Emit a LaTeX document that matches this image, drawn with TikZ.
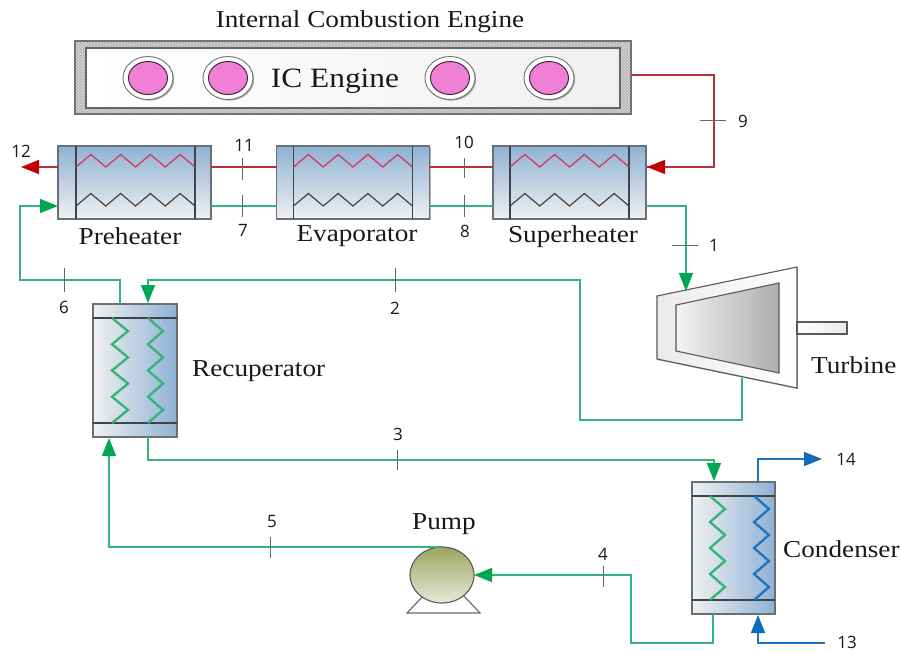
\documentclass[tikz,border=0pt]{standalone}
\usepackage{fontspec}
\setmainfont[FakeStretch=1.12]{Liberation Serif}
\newfontfamily\numfont{Open Sans}
\usetikzlibrary{arrows.meta,patterns,shadows,shapes.geometric}
\definecolor{boxline}{HTML}{6A6F75}
\definecolor{darkbar}{HTML}{3F444A}
\definecolor{steel}{HTML}{8FB2D5}
\definecolor{pale}{HTML}{F0F0F0}
\definecolor{greenline}{HTML}{35B378}
\definecolor{greenhead}{HTML}{00A651}
\definecolor{redline}{HTML}{B5343C}
\definecolor{redhead}{HTML}{C00000}
\definecolor{blueline}{HTML}{1F75BC}
\definecolor{bluehead}{HTML}{0F6CBD}
\definecolor{coilred}{HTML}{D23C5A}
\definecolor{pink}{HTML}{F07FD6}
\definecolor{olivetop}{HTML}{9CA660}
\definecolor{olivebot}{HTML}{E6E9D8}
\tikzset{
  softshadow/.style={drop shadow={shadow xshift=1.2pt,shadow yshift=-1.2pt,opacity=.3,fill=black}},
  hx/.style={draw=boxline,line width=1.3pt,top color=steel,bottom color=pale,minimum width=153pt,minimum height=73pt,inner sep=0pt,outer sep=0pt,softshadow},
  vhx/.style={draw=boxline,line width=1.2pt,left color=pale,right color=steel,minimum width=84pt,minimum height=133pt,inner sep=0pt,outer sep=0pt,softshadow},
  bar/.style={draw=darkbar,line width=1.2pt},
  gpipe/.style={draw=greenline,line width=1.5pt},
  rpipe/.style={draw=redline,line width=1.5pt},
  bpipe/.style={draw=blueline,line width=1.5pt},
  garrow/.style={gpipe,-{Triangle[length=18pt,width=14pt,color=greenhead]}},
  rarrow/.style={rpipe,-{Triangle[length=18pt,width=14pt,color=redhead]}},
  barrow/.style={bpipe,-{Triangle[length=18pt,width=14pt,color=bluehead]}},
  tickmark/.style={draw=black!60,line width=1pt},
  num/.style={font=\numfont\fontsize{17}{17}\selectfont,text=black!90,inner sep=0pt},
  lbl/.style={font=\fontsize{24.3}{25}\selectfont,text=black!90,inner sep=0pt},
  redcoil/.style={draw=coilred,line width=1.3pt,line join=miter},
  blackcoil/.style={draw=darkbar,line width=1.2pt},
  gcoil/.style={draw=greenline,line width=2.3pt},
  bcoil/.style={draw=blueline,line width=2.3pt},
  cyl/.style={ellipse,draw=black!55,line width=.9pt,fill=white,minimum width=50pt,minimum height=43pt,inner sep=0pt,softshadow},
  piston/.style={ellipse,draw=black!70!pink,line width=1pt,fill=pink,minimum width=39pt,minimum height=33pt,inner sep=0pt},
}
% horizontal zigzag: x0, x1, base y, amplitude
\newcommand{\hzig}[5]{\draw[#1] (#2,#4) \foreach \i in {1,...,8} { -- ({#2+\i*(#3-#2)/8},{#4-#5*mod(\i,2)}) };}
% vertical zigzag: y0, y1, base x, amplitude
\newcommand{\vzig}[5]{\draw[#1] (#4,#2) \foreach \i in {1,...,8} { -- ({#4+#5*mod(\i,2)},{#2+\i*(#3-#2)/8}) };}
\begin{document}
\begin{tikzpicture}[x=1pt,y=-1pt]
\useasboundingbox[fill=white] (0,0) rectangle (901,652);

% --- engine
\node[draw=black!55,line width=1.2pt,fill=black!12,minimum width=556pt,minimum height=73pt,inner sep=0pt,outer sep=0pt,softshadow] (engine) at (353,77.5) {};
\fill[pattern=crosshatch,pattern color=black!32] (engine.south west) rectangle (engine.north east);
\draw[draw=black!55,line width=1.2pt] (engine.south west) rectangle (engine.north east);
\node[draw=black!60,line width=1.4pt,left color=white,right color=black!6,minimum width=534pt,minimum height=60pt,inner sep=0pt] (engineinner) at (353,78) {};
\foreach \n/\x in {a/148,b/228,c/450,d/549}{
  \node[cyl] (cyl\n) at (\x,78) {};
  \node[piston] (pis\n) at (\x,78) {};
}
\node[lbl,font=\fontsize{28}{28}\selectfont] (iclabel) at (335,81) {IC Engine};
\node[lbl] (title) at (370,21.5) {Internal Combustion Engine};

% --- ports
\coordinate (hot9a) at (631,75);
\coordinate (hot9b) at (714,75);
\coordinate (hot9c) at (714,167);
\coordinate (sh-hot-r) at (647,167);
\coordinate (sh-hot-l) at (493,167);
\coordinate (ev-hot-r) at (429,167);
\coordinate (ev-hot-l) at (277,167);
\coordinate (pr-hot-r) at (211,167);
\coordinate (pr-hot-l) at (58,167);
\coordinate (out12) at (21,167);
\coordinate (sh-c-r) at (646,206);
\coordinate (sh-c-l) at (493,206);
\coordinate (ev-c-r) at (429,206);
\coordinate (ev-c-l) at (277,206);
\coordinate (pr-c-r) at (211,206);
\coordinate (pr-c-l) at (58,206);
\coordinate (t-in) at (686,291);

% --- heat exchangers
\foreach \n/\x/\l/\r in {pre/134.5/76/195,eva/353/293.5/412.5,sup/569.5/510/629}{
  \node[hx] (\n) at (\x,182.5) {};
  \draw[bar] (\l,146) -- (\l,219);
  \draw[bar] (\r,146) -- (\r,219);
  \hzig{redcoil}{\l}{\r}{167}{12.5}
  \hzig{blackcoil}{\l}{\r}{206}{12.5}
}
\node[lbl] (prelabel) at (130,236.5) {Preheater};
\node[lbl] (evalabel) at (357,236.5) {Evaporator};
\node[lbl] (suplabel) at (573,236.5) {Superheater};

\node[vhx] (rec) at (135,370.5) {};
\draw[bar] (93,318) -- (177,318);
\draw[bar] (93,423) -- (177,423);
\vzig{gcoil}{318}{423}{112}{16}
\vzig{gcoil}{318}{423}{148}{15}
\node[lbl,anchor=west] (reclabel) at (192,371) {Recuperator};

\node[vhx,minimum width=83pt,minimum height=132pt] (con) at (733.5,548) {};
\draw[bar] (692,496) -- (775,496);
\draw[bar] (692,600) -- (775,600);
\vzig{gcoil}{496}{600}{710}{15}
\vzig{bcoil}{496}{600}{754}{15}
\node[lbl,anchor=west] (conlabel) at (783,549) {Condenser};

% --- turbine
\draw[draw=black!65,line width=1.1pt,left color=black!8,right color=white,softshadow] (657,296) -- (797,267) -- (797,388) -- (657,359) -- cycle;
\draw[draw=black!65,line width=1.1pt,left color=black!5,right color=black!32] (676,305) -- (779,283) -- (779,373) -- (676,351) -- cycle;
\node[draw=black!65,line width=1.1pt,left color=white,right color=black!8,minimum width=50pt,minimum height=12pt,inner sep=0pt,outer sep=0pt,softshadow] (shaft) at (822,328) {};
\node[lbl,anchor=west] (turlabel) at (811,365) {Turbine};

% --- pump
\draw[draw=black!60,line width=1.1pt] (425,594) -- (407,613) -- (480,613) -- (462,594);
\node[ellipse,draw=black!65,line width=1.1pt,top color=olivetop,bottom color=olivebot,minimum width=64pt,minimum height=56pt,inner sep=0pt,outer sep=0pt] (pump) at (442,575) {};
\node[lbl] (pumplabel) at (444,524) {Pump};

% --- connectors
\draw[rpipe] (hot9a) -- (hot9b) -- (hot9c) -- (sh-hot-r);
\draw[rarrow] (hot9c) -- (sh-hot-r);
\draw[rpipe] (sh-hot-l) -- (ev-hot-r);
\draw[rpipe] (ev-hot-l) -- (pr-hot-r);
\draw[rarrow] (pr-hot-l) -- (out12);
\draw[gpipe] (sh-c-l) -- (ev-c-r);
\draw[gpipe] (ev-c-l) -- (pr-c-r);
\draw[garrow] (120,304) -- (120,280) -- (20,280) -- (20,206) -- (pr-c-l);
\draw[garrow] (sh-c-r) -- (686,206) -- (t-in);
\draw[garrow] (742,378) -- (742,420) -- (580,420) -- (580,280) -- (148,280) -- (148,303);
\draw[garrow] (148,437) -- (148,460) -- (714,460) -- (714,481);
\draw[garrow] (713,614) -- (713,643) -- (631,643) -- (631,575) -- (pump.east);
\draw[garrow] (pump.north) -- (109,547) -- (109,438);
\draw[barrow] (758,482) -- (758,459) -- (822,459);
\draw[barrow] (825,643) -- (758,643) -- (758,615);

% --- tick marks
\draw[tickmark] (700,121) -- (726,121);
\draw[tickmark] (672,245) -- (698,245);
\draw[tickmark] (242,158) -- (242,180);
\draw[tickmark] (242,195) -- (242,217);
\draw[tickmark] (464,158) -- (464,178);
\draw[tickmark] (464,195) -- (464,217);
\draw[tickmark] (64,268) -- (64,292);
\draw[tickmark] (395,268) -- (395,292);
\draw[tickmark] (397,450) -- (397,470);
\draw[tickmark] (603,566) -- (603,587);
\draw[tickmark] (270,537) -- (270,558);

% --- numbers
\node[num] (n1) at (714,245) {1};
\node[num] (n2) at (395,308) {2};
\node[num] (n3) at (398,434) {3};
\node[num] (n4) at (603,554) {4};
\node[num] (n5) at (272,522) {5};
\node[num] (n6) at (64,307) {6};
\node[num] (n7) at (243,230) {7};
\node[num] (n8) at (465,231) {8};
\node[num] (n9) at (743,121) {9};
\node[num] (n10) at (464,142) {10};
\node[num] (n11) at (244,145) {11};
\node[num] (n12) at (21,151) {12};
\node[num] (n13) at (847,642) {13};
\node[num] (n14) at (846,459) {14};
\end{tikzpicture}
\end{document}
